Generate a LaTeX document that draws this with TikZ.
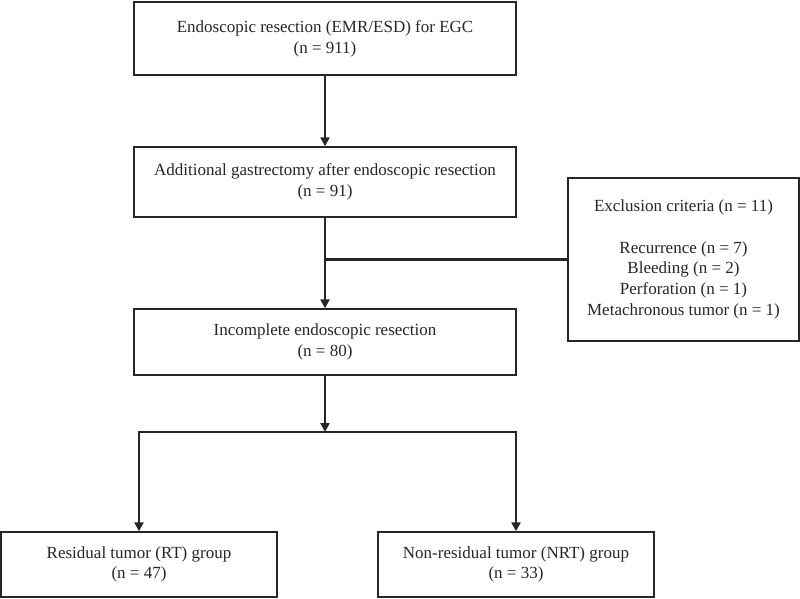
\documentclass[tikz,border=0pt]{standalone}
\usepackage{fontspec}
\setmainfont{Liberation Serif}
\usetikzlibrary{arrows.meta}
\begin{document}
\begin{tikzpicture}[x=1pt,y=-1pt,
  box/.style={draw=black!85, line width=1.4pt, align=center, inner sep=0pt,
    font=\fontsize{17}{20.7}\selectfont, text=black!85},
  conn/.style={draw=black!85, line width=2.3pt},
  arr/.style={conn, -{Triangle[length=9pt,width=9pt]}}]
\useasboundingbox (0,0) rectangle (800,599);
\node[box, minimum width=382pt, minimum height=73pt] (b1) at (325,38.5)
  {Endoscopic resection (EMR/ESD) for EGC\\(n = 911)};
\node[box, minimum width=382pt, minimum height=70pt] (b2) at (325,182)
  {Additional gastrectomy after endoscopic resection\\(n = 91)};
\node[box, minimum width=382pt, minimum height=66pt] (b3) at (325,342)
  {Incomplete endoscopic resection\\(n = 80)};
\node[box, minimum width=231pt, minimum height=163pt] (ex) at (683.5,259.5)
  {Exclusion criteria (n = 11)\\[20.7pt]Recurrence (n = 7)\\Bleeding (n = 2)\\Perforation (n = 1)\\Metachronous tumor (n = 1)};
\node[box, minimum width=276pt, minimum height=65pt] (b4) at (139,564.5)
  {Residual tumor (RT) group\\(n = 47)};
\node[box, minimum width=276pt, minimum height=65pt] (b5) at (516,564.5)
  {Non-residual tumor (NRT) group\\(n = 33)};
\coordinate (j) at (325,432);
\draw[arr] (b1.south) -- (b2.north);
\draw[arr] (b2.south) -- (b3.north);
\draw[conn] (ex.west) -- (ex.west -| b2.south);
\draw[arr] (b3.south) -- (j);
\draw[arr] (j) -| (b4.north);
\draw[arr] (j) -| (b5.north);
\end{tikzpicture}
\end{document}
